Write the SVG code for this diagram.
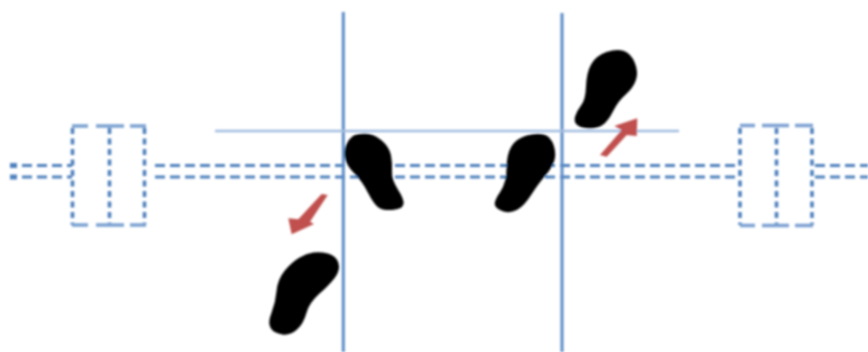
<svg xmlns="http://www.w3.org/2000/svg" width="868" height="352" viewBox="0 0 868 352">
<style>
.v{stroke:#5b8bc7;stroke-width:3;fill:none}
.h{stroke:#a3bde0;stroke-width:2.6;fill:none}
.d{stroke:#4f81bd;stroke-width:3.2;stroke-dasharray:10 5;fill:none}
.b{stroke:#4f81bd;stroke-width:3.6;stroke-dasharray:6 4.500;fill:none}
.t{stroke:#7ba1d1;stroke-width:3.4;fill:none}
.foot{fill:#000;stroke:#000;stroke-width:3;stroke-linejoin:round}
.arrow{fill:#c0504d}
</style>
<defs><filter id="soft" x="-2%" y="-2%" width="104%" height="104%"><feGaussianBlur stdDeviation="0.8"/></filter></defs>
<rect width="868" height="352" fill="#fff"/>
<g filter="url(#soft)">
<g id="connectors">
<path class="d" d="M22 165.500H72M22 177H72M155 165.500H740M155 177H740M815 165.500H868M815 177H868"/>
<path d="M10 165.500H17M10 177H17" stroke="#4f81bd" stroke-width="5" fill="none"/>
<path class="v" d="M343.300 12V352M562 13V352"/>
<path class="h" d="M215 131H679"/>
<polygon class="arrow" points="321.700,194 327.700,195 310,221.700 314,224 291.700,234.300 288.300,218.300 298.300,219.300"/>
<polygon class="arrow" points="600,155 606.700,156.700 626.700,135 636.700,136 637.300,118.300 614.300,126 621.700,130"/>
</g>
<g id="box-left">
<path class="b" d="M72.500 128V225M109.500 128V225M144.500 128V225"/>
<path class="t" d="M72 126H88M96 126H124M130 126H146M72 225H88M96 225H124M130 225H146"/>
</g>
<g id="box-right">
<path class="b" d="M740 128V225M776.500 128V225M812 128V225"/>
<path class="t" d="M740 125.500H755M762 125.500H789M795 125.500H813M740 225.500H755M762 225.500H789M795 225.500H813"/>
</g>
<g id="foot-a"><path class="foot" d="M353.500 137.500Q357 135 365 135Q373 135 380.500 141.500Q388 148 389.500 155.500Q391 163 390.500 171.500Q390 180 396.500 190Q403 200 402 204Q401 208 392 208.500Q383 209 379 206Q375 203 369 191.500Q363 180 355.500 172.500Q348 165 346.500 158Q345 151 347.500 145.500Q350 140 353.500 137.500Z"/></g>
<g id="foot-b"><path class="foot" d="M313.500 254Q320 253 327.500 255Q335 257 337 263.500Q339 270 333.500 277Q328 284 318 293Q308 302 305 312.500Q302 323 296 328.500Q290 334 282.500 333Q275 332 272 327.500Q269 323 273 313Q277 303 278 291.500Q279 280 286 271.500Q293 263 300 259Q307 255 313.500 254Z"/></g>
<g id="foot-c"><path class="foot" d="M607 53.500Q617 50 623.500 52.500Q630 55 633.500 63.500Q637 72 634.500 79.500Q632 87 624.500 93.500Q617 100 612 110Q607 120 602 123.500Q597 127 590 127Q583 127 579 124.500Q575 122 576.500 117Q578 112 582.500 106Q587 100 587.500 86.500Q588 73 592.500 65Q597 57 607 53.500Z"/></g>
<g id="foot-d"><path class="foot" d="M527 137Q537 134 543.500 136Q550 138 552.500 146.500Q555 155 552.500 161.500Q550 168 543.500 175.500Q537 183 530 194Q523 205 516.500 208.500Q510 212 504 210Q498 208 496.500 205Q495 202 501.500 192.500Q508 183 508 169Q508 155 512.500 147.500Q517 140 527 137Z"/></g>
</g>
</svg>
